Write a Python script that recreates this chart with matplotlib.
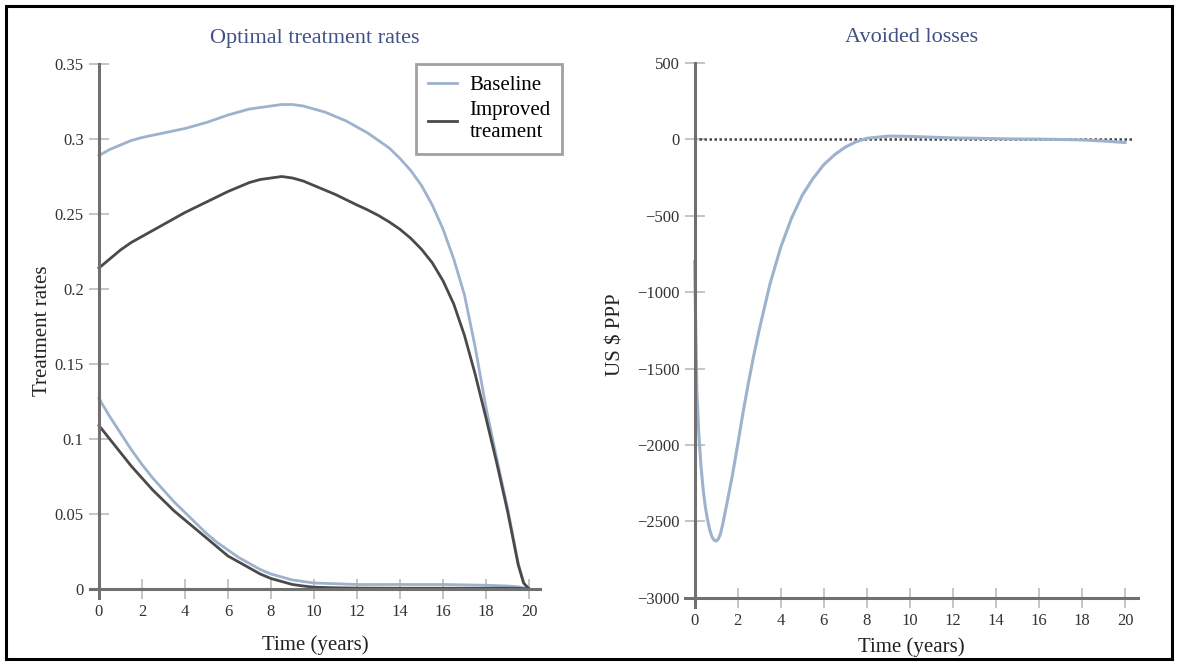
import matplotlib
matplotlib.use('Agg')
import matplotlib.pyplot as plt
from matplotlib.patches import Rectangle

plt.rcParams['font.family'] = ['Liberation Serif', 'DejaVu Serif']

# Left panel: optimal treatment rates (two branches per scenario)
t_upper = [0, 0.5, 1, 1.5, 2, 2.5, 3, 3.5, 4, 4.5,
           5, 5.5, 6, 6.5, 7, 7.5, 8, 8.5, 9, 9.5,
           10, 10.5, 11, 11.5, 12, 12.5, 13, 13.5, 14, 14.5,
           15, 15.5, 16, 16.5, 17, 17.5, 18, 18.5, 19, 19.5,
           19.75, 20]
base_upper = [0.289, 0.293, 0.296, 0.299, 0.301, 0.3025, 0.304, 0.3055, 0.307, 0.309,
              0.311, 0.3135, 0.316, 0.318, 0.320, 0.321, 0.322, 0.323, 0.323, 0.322,
              0.320, 0.318, 0.315, 0.312, 0.308, 0.304, 0.299, 0.294, 0.287, 0.279,
              0.269, 0.256, 0.240, 0.220, 0.196, 0.161, 0.121, 0.087, 0.054, 0.017,
              0.004, 0.0]
impr_upper = [0.214, 0.220, 0.226, 0.231, 0.235, 0.239, 0.243, 0.247, 0.251, 0.2545,
              0.258, 0.2615, 0.265, 0.268, 0.271, 0.273, 0.274, 0.275, 0.274, 0.272,
              0.269, 0.266, 0.263, 0.2595, 0.256, 0.2527, 0.249, 0.2447, 0.2398, 0.2338,
              0.2265, 0.2175, 0.2055, 0.190, 0.169, 0.143, 0.114, 0.084, 0.052, 0.016,
              0.004, 0.0]

t_lower = [0, 0.5, 1, 1.5, 2, 2.5, 3, 3.5, 4, 4.5,
           5, 5.5, 6, 6.5, 7, 7.5, 8, 8.5, 9, 9.5,
           10, 11, 12, 14, 16, 18, 19, 19.5, 20]
base_lower = [0.127, 0.115, 0.104, 0.093, 0.083, 0.074, 0.066, 0.058, 0.051, 0.044,
              0.037, 0.031, 0.026, 0.021, 0.017, 0.013, 0.010, 0.008, 0.006, 0.005,
              0.004, 0.0035, 0.003, 0.003, 0.003, 0.0025, 0.002, 0.0015, 0.0]
impr_lower = [0.109, 0.100, 0.091, 0.082, 0.074, 0.066, 0.059, 0.052, 0.046, 0.040,
              0.034, 0.028, 0.022, 0.018, 0.014, 0.010, 0.007, 0.005, 0.003, 0.002,
              0.0012, 0.0008, 0.0006, 0.0005, 0.0005, 0.0005, 0.0005, 0.0004, 0.0]

# Right panel: avoided losses (US $ PPP)
t_loss = [0, 0.05, 0.1, 0.2, 0.3, 0.4, 0.5, 0.6, 0.7, 0.8,
          0.9, 1.0, 1.1, 1.2, 1.3, 1.4, 1.5, 1.75, 2.0, 2.25,
          2.5, 2.75, 3.0, 3.5, 4.0, 4.5, 5.0, 5.5, 6.0, 6.5,
          7.0, 7.5, 8.0, 9, 10, 11, 12, 13, 14, 15,
          16, 17, 18, 19, 20]
losses = [-800, -1250, -1640, -1950, -2150, -2300, -2410, -2490, -2555, -2600,
          -2622, -2628, -2615, -2580, -2520, -2450, -2380, -2200, -1995, -1785,
          -1590, -1410, -1245, -945, -705, -515, -365, -255, -165, -100,
          -50, -15, 8, 22, 20, 15, 10, 8, 5, 3,
          2, 0, -3, -10, -20]

left_ticks = [0, 0.05, 0.1, 0.15, 0.2, 0.25, 0.3, 0.35]
right_ticks = [-3000, -2500, -2000, -1500, -1000, -500, 0, 500]
x_ticks = list(range(0, 21, 2))

c_base = '#9db2cd'
c_impr = '#4a4a4a'
c_title = '#3f5185'
c_spine = '#707070'
c_tick = '#b5b5b5'

fig = plt.figure(figsize=(11.78, 6.64), dpi=100)
ax1 = fig.add_axes([0.0767, 0.0994, 0.3815, 0.8042])
ax2 = fig.add_axes([0.5815, 0.0858, 0.3845, 0.8192])


def style(ax, ybase, xpad):
    for s in ['top', 'right']:
        ax.spines[s].set_visible(False)
    ax.spines['left'].set_position(('data', 0))
    ax.spines['bottom'].set_position(('data', ybase))
    for s in ['left', 'bottom']:
        ax.spines[s].set_color(c_spine)
        ax.spines[s].set_linewidth(2.2)
    ax.tick_params(direction='inout', length=14, width=1.1, color=c_tick,
                   labelsize=12, labelcolor='#333333', pad=4)
    ax.set_xticks(x_ticks)
    ax.set_xlabel('Time (years)', fontsize=15, color='#222222', labelpad=xpad)


ax1.plot(t_upper, base_upper, color=c_base, lw=2, label='Baseline')
ax1.plot(t_lower, base_lower, color=c_base, lw=2)
ax1.plot(t_upper, impr_upper, color=c_impr, lw=2, label='Improved\ntreament')
ax1.plot(t_lower, impr_lower, color=c_impr, lw=2)
ax1.set_xlim(-0.4, 20.5)
ax1.set_ylim(-0.006, 0.35)
style(ax1, 0, 11)
ax1.set_yticks(left_ticks)
ax1.set_yticklabels([f'{v:g}' for v in left_ticks])
ax1.set_ylabel('Treatment rates', fontsize=15, color='#222222', labelpad=2)
ax1.set_title('Optimal treatment rates', fontsize=16, color=c_title, pad=15)
leg = ax1.legend(loc='upper right', bbox_to_anchor=(1.05, 1.0), borderaxespad=0,
                 fontsize=15, frameon=True, fancybox=False, handlelength=1.4,
                 handletextpad=0.6, labelspacing=0.3, borderpad=0.55)
leg.get_frame().set_edgecolor('#8a8a8a')
leg.get_frame().set_linewidth(2)

ax2.axhline(0, xmin=0.02, xmax=0.99, color='#444444', lw=1.8, ls=(0, (1, 1)))
ax2.plot(t_loss, losses, color=c_base, lw=2.2)
ax2.set_xlim(-0.45, 20.6)
ax2.set_ylim(-3060, 500)
style(ax2, -3000, 6)
ax2.set_yticks(right_ticks)
ax2.set_ylabel('US $ PPP', fontsize=15, color='#222222', labelpad=8)
ax2.set_title('Avoided losses', fontsize=16, color=c_title, pad=15)

fig.patches.append(Rectangle((6 / 1178, 5 / 664), 1166 / 1178, 653 / 664,
                             transform=fig.transFigure, fill=False,
                             lw=2.2, ec='black'))

fig.savefig('out.png', dpi=100)
